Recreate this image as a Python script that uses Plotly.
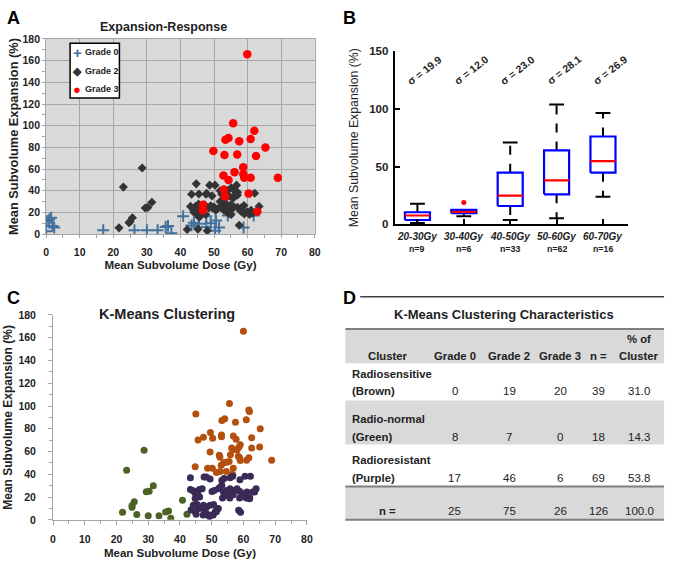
import plotly.graph_objects as go

W, H = 675, 565
FONT = "Liberation Sans, Arial, sans-serif"
DARK = "#222222"

# ---------------- Panel A data ----------------
g0_x = [0.0, 0.2, 0.9, 1.5, 1.9, 2.4, 17.0, 26.3, 30.0, 33.2, 35.6, 36.3, 37.3, 40.8, 43.3, 44.0, 45.5,
        47.7, 47.7, 49.0, 50.6, 50.3, 51.5, 54.1, 59.0, 58.8, 61.8]
g0_y = [2.5, 12.0, 13.5, 15.0, 7.5, 6.0, 3.5, 3.5, 3.5, 3.5, 6.5, 7.5, 0.8, 16.5, 8.0, 10.5, 9.5,
        16.5, 6.5, 10.0, 12.5, 3.0, 6.0, 17.0, 22.5, 6.0, 17.0]

g2_x = [21.7, 23.0, 24.7, 25.0, 25.7, 28.6, 29.5, 30.3, 31.5,
        42.0, 43.3, 43.0, 44.5, 45.4, 44.0, 44.9, 45.6, 44.7, 45.2, 46.0, 46.5, 47.5, 48.7, 47.6, 47.8,
        49.4, 48.0, 49.6, 50.3, 50.5, 51.0, 51.8, 52.6, 51.8, 52.3, 53.0, 53.8, 54.2, 54.5, 55.1, 55.6,
        55.1, 53.5, 54.0, 56.2, 57.0, 56.7, 55.7, 57.0, 58.0, 57.5, 57.0, 56.5, 58.9, 59.8, 60.6, 61.6,
        62.1, 63.4, 59.0, 52.0, 50.0, 49.0, 48.5, 53.0, 55.0, 58.0, 61.0, 46.8, 47.2, 45.5, 44.0, 56.0,
        54.5, 52.8]
g2_y = [5.7, 43.3, 10.5, 11.5, 15.0, 61.0, 24.0, 24.6, 29.4,
        4.2, 36.7, 25.5, 25.5, 27.6, 20.1, 18.0, 15.6, 46.3, 4.5, 22.0, 20.0, 18.0, 45.1, 36.7, 37.5,
        35.2, 3.0, 24.0, 45.1, 22.0, 23.4, 30.0, 27.0, 40.0, 36.7, 22.0, 20.4, 21.5, 19.0, 18.0, 24.0,
        42.7, 28.0, 40.0, 40.0, 38.5, 45.1, 33.1, 24.6, 21.0, 8.1, 36.0, 37.0, 26.4, 20.4, 18.0, 19.5,
        37.6, 25.5, 18.5, 24.5, 25.0, 26.0, 24.0, 26.0, 27.0, 24.0, 22.0, 23.0, 27.0, 37.0, 22.0, 25.0,
        35.0, 31.0]

g3_x = [59.9, 55.7, 62.0, 53.4, 54.3, 57.5, 60.9, 49.8, 65.3, 53.1, 56.9, 62.5, 58.7, 52.8, 56.1,
        58.7, 59.0, 54.3, 60.9, 69.0, 52.9, 60.3, 53.3, 46.7, 46.7, 62.9]
g3_y = [165.9, 102.2, 95.3, 87.1, 88.6, 85.6, 87.7, 76.6, 79.9, 73.0, 73.3, 72.1, 61.6, 54.1, 57.1,
        55.3, 52.0, 49.9, 52.0, 52.0, 41.2, 37.3, 34.6, 27.0, 21.9, 20.7]

legend_names = ["Grade 0", "Grade 2", "Grade 3"]
legend_glyphs = ["+", "\u25c6", "\u25cf"]

# ---------------- Panel B data ----------------
bin_labels = ["20-30Gy", "30-40Gy", "40-50Gy", "50-60Gy", "60-70Gy"]
bin_n = [9, 6, 33, 62, 16]
bin_sigma = ["19.9", "12.0", "23.0", "28.1", "26.9"]
bin_q1 = [3.7, 9.6, 15.8, 25.9, 44.7]
bin_med = [7.6, 10.7, 24.8, 38.0, 54.6]
bin_q3 = [10.4, 12.4, 44.7, 63.9, 76.0]
bin_lo = [1.0, 7.0, 3.7, 5.3, 23.9]
bin_hi = [17.7, 12.4, 70.9, 103.6, 96.3]
out_bin = [1]
out_val = [18.9]

# ---------------- Panel C data ----------------
br_x = [60.0, 55.6, 61.7, 61.9, 45.0, 53.2, 54.1, 57.5, 60.9, 65.3, 49.6, 53.1, 53.1, 56.8, 57.7,
        45.7, 47.4, 50.3, 62.6, 56.3, 56.7, 58.0, 58.6, 59.0, 62.6, 65.1, 49.5, 52.4, 52.6, 55.9,
        58.4, 58.8, 59.0, 61.7, 61.0, 68.9, 54.6, 53.8, 55.5, 53.0, 44.8, 48.7, 50.2, 51.5, 52.6,
        54.6, 56.8, 56.4, 56.7]
br_y = [165.7, 102.3, 96.6, 95.2, 92.9, 87.4, 88.9, 85.7, 88.0, 80.0, 76.8, 74.5, 73.1, 73.7, 70.8,
        70.2, 72.5, 71.7, 72.2, 63.1, 61.6, 61.6, 63.9, 65.9, 63.1, 63.9, 59.6, 56.7, 55.0, 57.3,
        55.9, 54.5, 52.2, 54.5, 52.4, 52.4, 50.7, 50.2, 51.3, 47.9, 46.7, 45.3, 45.3, 41.6, 42.4,
        42.4, 45.3, 40.1, 39.3]

gr_x = [21.9, 23.2, 24.9, 24.9, 25.6, 26.4, 28.7, 29.4, 30.3, 31.6, 30.0, 33.4, 35.5, 36.4, 37.1,
        40.8, 42.2]
gr_y = [6.6, 43.6, 11.0, 12.5, 15.8, 4.6, 61.1, 24.7, 25.2, 29.9, 3.7, 3.7, 6.9, 7.7, 1.5,
        17.2, 4.9]

pu_x = [43.3, 47.6, 48.3, 49.5, 53.2, 53.9, 55.8, 56.6, 58.9, 60.5, 62.2,
        43.3, 44.0, 44.7, 45.4, 46.1, 47.0,
        45.6, 46.2, 44.8, 44.2, 45.4,
        43.5, 44.9, 46.4, 47.3, 48.0, 48.5, 49.5, 50.6, 51.1, 51.6, 49.5,
        50.1, 50.8, 52.1, 52.6, 53.2, 53.7, 54.2, 54.7, 55.2, 55.8, 56.3, 56.8, 57.3, 58.0, 58.9,
        59.7, 60.4, 61.1, 62.0, 63.5, 64.0, 58.5, 59.1,
        62.9, 60.9, 53.4, 55.7, 58.8, 61.9,
        48.4, 49.3, 50.5, 51.5, 52.1, 47.4, 45.8, 45.1]
pu_y = [37.0, 37.6, 37.6, 35.9, 34.7, 36.4, 37.0, 38.2, 35.3, 38.2, 38.2,
        26.7, 25.8, 23.8, 25.0, 26.7, 27.3,
        22.1, 20.1, 18.7, 12.9, 13.5,
        8.6, 6.6, 10.1, 4.3, 7.2, 11.5, 12.9, 13.5, 7.2, 9.5, 4.3,
        25.0, 25.8, 27.3, 28.7, 30.1, 24.4, 21.5, 25.8, 23.8, 27.3, 25.0, 22.1, 25.8, 27.3, 25.0,
        23.0, 20.9, 24.4, 19.2, 24.4, 27.3, 8.4, 6.6,
        24.4, 19.2, 19.2, 19.2, 19.2, 18.6,
        4.9, 2.9, 4.3, 7.2, 10.0, 12.9, 10.0, 4.9]

# ---------------- Panel D data ----------------
tbl_header = ["Cluster", "Grade 0", "Grade 2", "Grade 3", "n =", "Cluster"]
tbl_header_top = "% of"
tbl_names = ["Radiosensitive", "Radio-normal", "Radioresistant"]
tbl_colors = ["(Brown)", "(Green)", "(Purple)"]
tbl_g0 = [0, 8, 17]
tbl_g2 = [19, 7, 46]
tbl_g3 = [20, 0, 6]
tbl_n = [39, 18, 69]
tbl_pct = ["31.0", "14.3", "53.8"]
tbl_total_label = "n ="
tbl_total = ["25", "75", "26", "126", "100.0"]


def px(x):
    return x / W


def py(y):
    return 1 - y / H


COL_G0, COL_G2, COL_G3 = "#41719C", "#333333", "#FF0000"

fig = go.Figure()

# ---- Panel A traces ----
fig.add_trace(go.Scatter(x=g0_x, y=g0_y, mode="markers", name=legend_names[0], xaxis="x", yaxis="y",
                         marker=dict(symbol="cross-thin", size=8.5, color=COL_G0,
                                     line=dict(width=2, color=COL_G0))))
fig.add_trace(go.Scatter(x=g2_x, y=g2_y, mode="markers", name=legend_names[1], xaxis="x", yaxis="y",
                         marker=dict(symbol="diamond", size=7, color=COL_G2)))
fig.add_trace(go.Scatter(x=g3_x, y=g3_y, mode="markers", name=legend_names[2], xaxis="x", yaxis="y",
                         marker=dict(symbol="circle", size=8.5, color=COL_G3)))

# ---- Panel B traces (boxes built from statistics) ----
BW = 0.27
CW = 0.16
for i in range(len(bin_labels)):
    fig.add_trace(go.Scatter(x=[i, i, None, i, i], y=[bin_q3[i], bin_hi[i], None, bin_q1[i], bin_lo[i]],
                             mode="lines", xaxis="x2", yaxis="y2", showlegend=False,
                             line=dict(color="black", width=2, dash="dash")))
    fig.add_trace(go.Scatter(x=[i - CW, i + CW, None, i - CW, i + CW],
                             y=[bin_hi[i], bin_hi[i], None, bin_lo[i], bin_lo[i]],
                             mode="lines", xaxis="x2", yaxis="y2", showlegend=False,
                             line=dict(color="black", width=2)))
    fig.add_trace(go.Scatter(x=[i - BW, i + BW, i + BW, i - BW, i - BW],
                             y=[bin_q1[i], bin_q1[i], bin_q3[i], bin_q3[i], bin_q1[i]],
                             mode="lines", fill="toself", fillcolor="white", xaxis="x2", yaxis="y2",
                             showlegend=False, line=dict(color="#0000FF", width=2.2)))
    fig.add_trace(go.Scatter(x=[i - BW, i + BW], y=[bin_med[i], bin_med[i]], mode="lines",
                             xaxis="x2", yaxis="y2", showlegend=False,
                             line=dict(color="#FF0000", width=2.2)))
fig.add_trace(go.Scatter(x=out_bin, y=out_val, mode="markers", xaxis="x2", yaxis="y2", showlegend=False,
                         marker=dict(symbol="circle", size=5, color="#FF0000")))

# ---- Panel C traces ----
fig.add_trace(go.Scatter(x=br_x, y=br_y, mode="markers", xaxis="x3", yaxis="y3", showlegend=False,
                         marker=dict(size=7, color="#B4500E")))
fig.add_trace(go.Scatter(x=gr_x, y=gr_y, mode="markers", xaxis="x3", yaxis="y3", showlegend=False,
                         marker=dict(size=7, color="#4A6226")))
fig.add_trace(go.Scatter(x=pu_x, y=pu_y, mode="markers", xaxis="x3", yaxis="y3", showlegend=False,
                         marker=dict(size=7, color="#3B2A55")))


def f(size, bold=True, **kw):
    d = dict(family=FONT, size=size, color=DARK)
    if bold:
        d["weight"] = "bold"
    d.update(kw)
    return d


anns = []
shapes = []


def ann(text, x, y, font, xanchor="center", yanchor="middle", xref="paper", yref="paper", **kw):
    anns.append(dict(text=text, x=x, y=y, xref=xref, yref=yref, xanchor=xanchor, yanchor=yanchor,
                     showarrow=False, font=font, **kw))


# Panel letters
for letter, (lx, ly) in zip(["A", "B", "C", "D"], [(11, 12), (351, 12), (11, 298), (351, 298)]):
    ann(letter, px(lx), py(ly), f(18, color="black"))

# Panel titles
ann("Expansion-Response", px(163), py(21), f(12.5))
ann("K-Means Clustering", px(166), py(315), f(14.5))

# Manual legend for panel A
shapes.append(dict(type="rect", xref="paper", yref="paper", x0=px(68), x1=px(118), y0=py(94), y1=py(38),
                   fillcolor="white", line=dict(color="black", width=1.5)))
for k, (nm, gl, col, gs) in enumerate(zip(legend_names, legend_glyphs,
                                          [COL_G0, COL_G2, COL_G3], [15, 11, 13])):
    yy = 47.3 + 18.8 * k
    ann(gl, px(75.5), py(yy), f(gs, color=col))
    ann(nm, px(81.5), py(yy), f(9), xanchor="left")

# Panel B category labels and sigma labels
for i, lab in enumerate(bin_labels):
    ann(lab, i, py(235), f(10, style="italic"), xref="x2")
    ann("n=%d" % bin_n[i], i, py(248.5), f(8.8), xref="x2")
    ann("\u03c3 = " + bin_sigma[i], i + 0.15, 134, f(10.5), xref="x2", yref="y2", textangle=-38)

# ---- Panel D table ----
TL, TR = 347, 670
shapes.append(dict(type="line", xref="paper", yref="paper", x0=px(362), x1=px(670), y0=py(297), y1=py(297),
                   line=dict(color="#404040", width=1.5)))
ann("K-Means Clustering Characteristics", px(508), py(315), f(13))
band_gray = "#D9D9D9"
for (y0, y1) in [(330, 365), (403, 448), (491, 525)]:
    shapes.append(dict(type="rect", xref="paper", yref="paper", x0=px(TL), x1=px(TR), y0=py(y1), y1=py(y0),
                       fillcolor=band_gray, line=dict(width=0), layer="below"))
for yl in [330, 491, 525]:
    shapes.append(dict(type="line", xref="paper", yref="paper", x0=px(TL), x1=px(TR), y0=py(yl), y1=py(yl),
                       line=dict(color="#7F7F7F", width=2)))

col_x = [390, 458, 513, 565, 604, 645]
tfont = f(11.5, bold=False)
hfont = f(11.3)
for cx, htxt in zip(col_x, tbl_header):
    ann(htxt, px(cx), py(358), hfont)
ann(tbl_header_top, px(col_x[-1]), py(340), hfont)
row_top = [376, 421.5, 464]
row_bot = [393, 440, 482]
for r in range(3):
    ann(tbl_names[r], px(352), py(row_top[r]), hfont, xanchor="left")
    ann(tbl_colors[r], px(352), py(row_bot[r]), hfont, xanchor="left")
    vals = [tbl_g0[r], tbl_g2[r], tbl_g3[r], tbl_n[r], tbl_pct[r]]
    for cx, v in zip(col_x[1:], vals):
        ann(str(v), px(cx), py(row_bot[r]), tfont)
ann(tbl_total_label, px(col_x[0]), py(516), hfont)
for cx, v in zip(col_x[1:], tbl_total):
    ann(v, px(cx), py(516), tfont)

GRAYLINE = "#A6A6A6"
fig.update_layout(
    width=W, height=H, margin=dict(l=0, r=0, t=0, b=0),
    paper_bgcolor="white", plot_bgcolor="white",
    showlegend=False,
    xaxis=dict(domain=[px(43.7), px(316)], range=[0, 80], dtick=10, showgrid=True, gridcolor=GRAYLINE,
               gridwidth=1, showline=True, linecolor=GRAYLINE, mirror=True, ticks="outside", ticklen=3,
               tickcolor=GRAYLINE, zeroline=False, tickfont=f(10.5), ticklabelstandoff=5,
               minor=dict(ticks="outside", dtick=5, ticklen=3, tickcolor=GRAYLINE),
               title=dict(text="Mean Subvolume Dose (Gy)", font=f(11.5), standoff=4), anchor="y"),
    yaxis=dict(domain=[py(233), py(33.7)], range=[0, 180], dtick=20, showgrid=True, gridcolor=GRAYLINE,
               gridwidth=1, showline=True, linecolor=GRAYLINE, mirror=True, ticks="outside", ticklen=3,
               tickcolor=GRAYLINE, zeroline=False, tickfont=f(10.5), ticklabelstandoff=0,
               minor=dict(ticks="outside", dtick=10, ticklen=3, tickcolor=GRAYLINE),
               title=dict(text="Mean Subvolume Expansion (%)", font=f(12.8), standoff=1), anchor="x"),
    xaxis2=dict(domain=[px(397), px(633)], range=[-0.49, 4.53], tickvals=list(range(len(bin_labels))),
                showticklabels=False, showgrid=False, zeroline=False, showline=True, linecolor="black",
                linewidth=2, ticks="inside", ticklen=5, tickwidth=2, tickcolor="black", anchor="y2"),
    yaxis2=dict(domain=[py(223), py(46)], range=[0, 150], tickvals=[0, 50, 100, 150], showgrid=False,
                zeroline=False, showline=True, linecolor="black", linewidth=2, ticks="inside", ticklen=5,
                tickwidth=2, tickcolor="black", tickfont=f(11.5), ticklabelstandoff=2,
                title=dict(text="Mean Subvolume Expansion (%)", font=f(12.3, bold=False), standoff=8),
                anchor="x2"),
    xaxis3=dict(domain=[px(50.7), px(308)], range=[0, 80], dtick=10, showgrid=False, zeroline=False,
                showline=True, linecolor=GRAYLINE, ticks="outside", ticklen=4, tickcolor=GRAYLINE,
                tickfont=f(10.5), ticklabelstandoff=6,
                minor=dict(ticks="outside", dtick=5, ticklen=3, tickcolor=GRAYLINE),
                title=dict(text="Mean Subvolume Dose (Gy)", font=f(11.5), standoff=4), anchor="y3"),
    yaxis3=dict(domain=[py(525), py(315.7)], range=[0, 180], dtick=20, showgrid=False, zeroline=False,
                showline=True, linecolor=GRAYLINE, ticks="outside", ticklen=4, tickcolor=GRAYLINE,
                tickfont=f(10.5), ticklabelstandoff=10,
                minor=dict(ticks="outside", dtick=10, ticklen=3, tickcolor=GRAYLINE),
                title=dict(text="Mean Subvolume Expansion (%)", font=f(12), standoff=3), anchor="x3"),
    annotations=anns,
    shapes=shapes,
)

# gray plot area only for panel A
fig.add_shape(type="rect", xref="x domain", yref="y domain", x0=0, x1=1, y0=0, y1=1,
              fillcolor="#D9D9D9", line=dict(width=0), layer="below")

fig.write_html("out.html", config={"displayModeBar": False},
               post_script="document.body.style.margin='0';document.body.style.padding='0';"
                           "document.body.style.overflow='hidden';")
